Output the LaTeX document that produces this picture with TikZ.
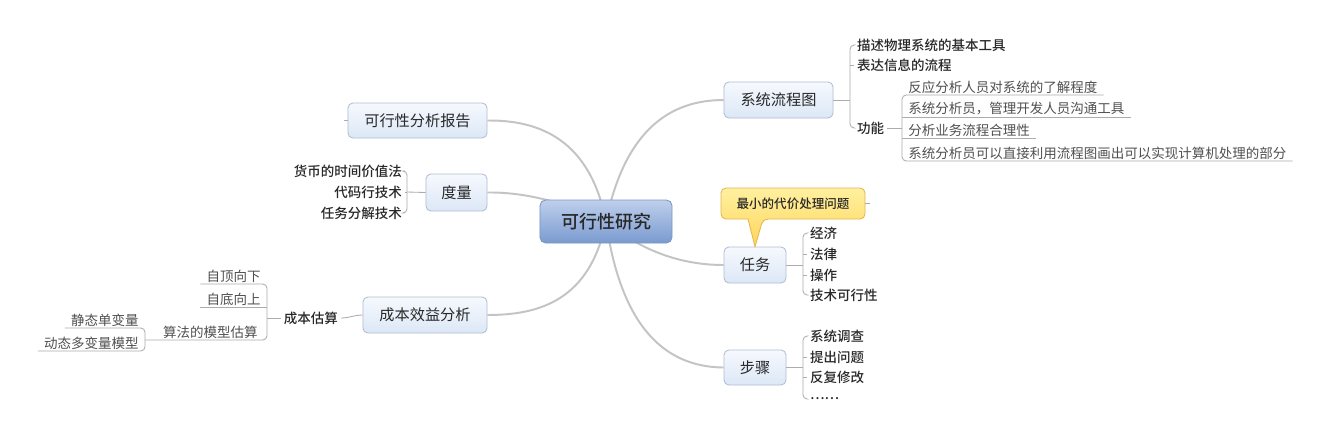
\documentclass[tikz,border=0pt]{standalone}
\usepackage{fontspec}
\setmainfont{Noto Sans CJK SC}[BoldFont={Noto Sans CJK SC Medium}]
\usetikzlibrary{positioning}
\pgfdeclarelayer{bg}
\pgfsetlayers{bg,main}
\definecolor{topicline}{RGB}{176,190,210}
\definecolor{topictop}{RGB}{246,249,254}
\definecolor{topicbot}{RGB}{220,231,246}
\definecolor{rootline}{RGB}{125,150,196}
\definecolor{roottop}{RGB}{190,208,236}
\definecolor{rootbot}{RGB}{122,154,208}
\definecolor{notetop}{RGB}{255,240,160}
\definecolor{notebot}{RGB}{255,214,90}
\definecolor{noteline}{RGB}{228,182,80}
\definecolor{branchgray}{RGB}{196,196,196}
\definecolor{twiggray}{RGB}{172,172,172}
\definecolor{txt}{RGB}{40,40,40}
\definecolor{softtxt}{RGB}{80,80,80}

\begin{document}
\begin{tikzpicture}[x=0.025cm,y=-0.025cm,
    root/.style={draw=rootline,rounded corners=4pt,top color=roottop,bottom color=rootbot,
      line width=0.6pt,inner sep=0pt,minimum width=3.3cm,minimum height=1.075cm,
      font=\fontsize{12.8pt}{14pt}\selectfont\bfseries,text=txt},
    topic/.style={draw=topicline,rounded corners=3.5pt,top color=topictop,bottom color=topicbot,
      line width=0.6pt,inner sep=0pt,font=\fontsize{10.8pt}{12pt}\selectfont,text=txt},
    branch/.style={draw=branchgray,line width=1.4pt},
    twig/.style={draw=twiggray,line width=0.6pt},
    leaf/.style={inner xsep=2pt,inner ysep=1pt,font=\fontsize{9.6pt}{11pt}\selectfont,text=softtxt},
    boldleaf/.style={leaf,font=\fontsize{9.6pt}{11pt}\selectfont\bfseries,text=txt},
    ulleaf/.style={leaf,inner xsep=4.3pt},
    note/.style={draw=noteline,top color=notetop,bottom color=notebot,line width=0.6pt}
  ]
  \useasboundingbox (0,0) rectangle (1332,443);

  \node[root] (c) at (606,221.5) {可行性研究};
  \node[topic,minimum width=3.475cm,minimum height=0.875cm] (rpt) at (417.5,120.5) {可行性分析报告};
  \node[topic,minimum width=1.525cm,minimum height=0.925cm] (dl) at (456.5,192.5) {度量};
  \node[topic,minimum width=3.1cm,minimum height=0.9cm] (cb) at (425,315) {成本效益分析};
  \node[topic,minimum width=2.725cm,minimum height=0.9cm] (lct) at (778.5,100) {系统流程图};
  \node[topic,minimum width=1.55cm,minimum height=0.9cm] (rw) at (755,265) {任务};
  \node[topic,minimum width=1.55cm,minimum height=0.875cm] (bz) at (755,367.5) {步骤};

  \begin{pgfonlayer}{bg}
    \fill[white] (0,0) rectangle (1332,443);
    \draw[branch] (c.center) .. controls (590,140) and (540,120) .. (rpt.east);
    \draw[branch] (c.center) .. controls (560,200) and (520,192) .. (dl.east);
    \draw[branch] (c.center) .. controls (590,300) and (540,315) .. (cb.east);
    \draw[branch] (c.center) .. controls (625,130) and (670,100) .. (lct.west);
    \draw[branch] (c.center) .. controls (640,250) and (680,265) .. (rw.west);
    \draw[branch] (c.center) .. controls (620,320) and (660,367) .. (bz.west);
  \end{pgfonlayer}

  \draw[twig] (rpt.west) -- ++(-4,0);

  % callout
  \path[note] (721,188) [rounded corners=3.5pt] -- (865,188) -- (865,219) -- (763,219)
    [sharp corners] -- (rw.north) -- (748,219) [rounded corners=3.5pt] -- (721,219) -- cycle;
  \node[font=\fontsize{8.9pt}{10pt}\selectfont\bfseries,text=txt] (zx) at (793,203.5) {最小的代价处理问题};
  \coordinate (zxr) at (865,203.5);
  \draw[twig] (zxr) -- ++(5,0);

  % 系统流程图
  \coordinate (lctb) at (850,100);
  \node[boldleaf,anchor=west] (ms) at (854,45) {描述物理系统的基本工具};
  \node[boldleaf,anchor=west] (bd) at (854,65) {表达信息的流程};
  \node[boldleaf,anchor=west] (gn) at (854,128) {功能};
  \draw[twig] (lct.east) -- (lctb);
  \draw[twig,rounded corners=3pt] (ms.west) -| (lctb) |- (gn.west);
  \draw[twig] (bd.west) -- (bd.west -| lctb);

  \coordinate (gnb) at (902,128);
  \node[ulleaf,anchor=south west] (fy) at (902,95) {反应分析人员对系统的了解程度};
  \node[ulleaf,anchor=south west] (xg) at (902,117) {系统分析员，管理开发人员沟通工具};
  \node[ulleaf,anchor=south west] (fx) at (902,138) {分析业务流程合理性};
  \node[ulleaf,anchor=south west] (xz) at (902,161) {系统分析员可以直接利用流程图画出可以实现计算机处理的部分};
  \draw[twig] (gn.east) -- (gnb);
  \draw[twig,rounded corners=3pt] (fy.south east) -| (gnb) |- (xz.south east);
  \draw[twig] (xg.south west) -- (xg.south east);
  \draw[twig] (fx.south west) -- (fx.south east);

  % 任务
  \coordinate (rwb) at (803,265);
  \node[boldleaf,anchor=west] (jj) at (807,233) {经济};
  \node[boldleaf,anchor=west] (fl) at (807,254) {法律};
  \node[boldleaf,anchor=west] (cz) at (807,275) {操作};
  \node[boldleaf,anchor=west] (js) at (807,295) {技术可行性};
  \draw[twig] (rw.east) -- (rwb);
  \draw[twig,rounded corners=3pt] (jj.west) -| (rwb) |- (js.west);
  \draw[twig] (fl.west) -- (fl.west -| rwb);
  \draw[twig] (cz.west) -- (cz.west -| rwb);

  % 步骤
  \coordinate (bzb) at (803,367.5);
  \node[boldleaf,anchor=west] (dc) at (807,336) {系统调查};
  \node[boldleaf,anchor=west] (tc) at (807,357) {提出问题};
  \node[boldleaf,anchor=west] (ff) at (807,377) {反复修改};
  \node[boldleaf,anchor=west] (dd) at (807,399) {……};
  \draw[twig] (bz.east) -- (bzb);
  \draw[twig,rounded corners=3pt] (dc.west) -| (bzb) |- (dd.west);
  \draw[twig] (tc.west) -- (tc.west -| bzb);
  \draw[twig] (ff.west) -- (ff.west -| bzb);

  % 度量
  \coordinate (dlb) at (407,192);
  \node[boldleaf,anchor=east] (hb) at (405,171) {货币的时间价值法};
  \node[boldleaf,anchor=east] (dm) at (405,192) {代码行技术};
  \node[boldleaf,anchor=east] (rf) at (405,213) {任务分解技术};
  \draw[twig] (dl.west) -- (dlb);
  \draw[twig,rounded corners=3pt] (hb.east) -| (dlb) |- (rf.east);
  \draw[twig] (dm.east) -- (dm.east -| dlb);

  % 成本效益分析
  \node[boldleaf,anchor=east] (cg) at (341,318) {成本估算};
  \draw[twig] (cg.east) to[out=0,in=180] (cb.west);
  \coordinate (cgb) at (267,318);
  \coordinate (sfb) at (145,340);
  \node[ulleaf,anchor=south east] (zd) at (267,284) {自顶向下};
  \node[ulleaf,anchor=south east] (zdi) at (267,307) {自底向上};
  \node[ulleaf,anchor=south east] (sf) at (264,340) {算法的模型估算};
  \draw[twig] (cg.west) -- (cgb);
  \draw[twig,rounded corners=3pt] (zd.south west) -| (cgb) |- (sfb);
  \draw[twig] (zdi.south west) -- (zdi.south west -| cgb);
  \node[ulleaf,anchor=south east] (jt) at (145,328) {静态单变量};
  \node[ulleaf,anchor=south east] (dt) at (145,351) {动态多变量模型};
  \draw[twig,rounded corners=3pt] (jt.south west) -| (sfb) |- (dt.south west);
\end{tikzpicture}
\end{document}
